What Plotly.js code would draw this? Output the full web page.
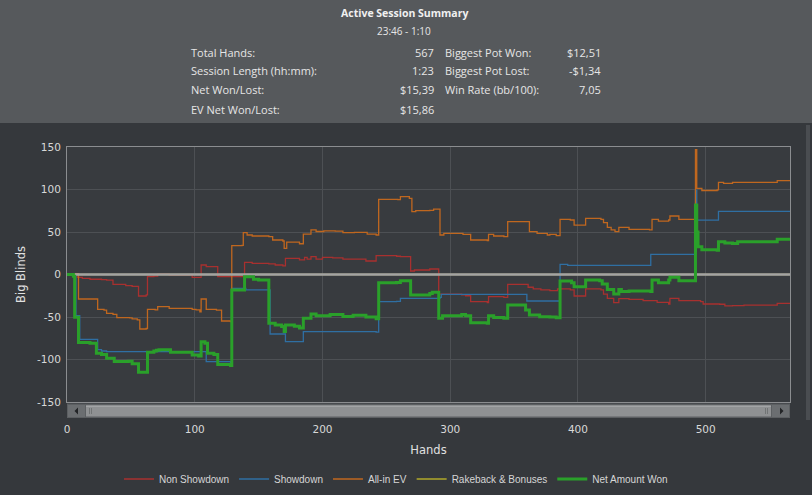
<!DOCTYPE html>
<html>
<head>
<meta charset="utf-8">
<script src="https://cdn.plot.ly/plotly-3.0.1.min.js"></script>
<style>html,body{margin:0;padding:0;background:#35383c;}#chart{width:812px;height:495px;}</style>
</head>
<body>
<div id="chart"></div>
<script>
// ---- data (hand number, big blinds) ----
const seriesNames = ["Non Showdown", "Showdown", "All-in EV", "Rakeback & Bonuses", "Net Amount Won"];

const nsHands  = [0,5,8,12,18,27,31,36,46,51,56,62,63,68,71,80,98,105,109,118,139,145,158,163,169,171,182,186,188,191,195,200,208,216,234,242,258,261,269,272,284,291,309,312,316,329,330,342,345,361,365,371,378,384,394,397,406,418,420,423,428,432,440,451,462,471,472,479,496,498,511,515,521,530,556,566];
const nsValues = [0,0,-3.3,-4.5,-5.6,-6,-6.5,-11.6,-13,-14,-25.3,-24,-2.5,-1.8,0.5,-0.6,-3.3,11.2,9.2,-2.5,14.3,13.2,12.4,11.2,10.2,19,17.1,20.2,18.2,21,18.2,20.2,19.5,18.2,15.9,22.1,21.5,21,4.1,5.3,6.5,-23,-24,-25,-32,-33.2,-26.1,-26.9,-11.6,-15,-17,-18.2,-19,-16.9,-18.2,-25.3,-17,-18.2,-23,-28,-33.2,-28.4,-29.2,-30.8,-32.7,-34.7,-28,-30.8,-31.8,-34.7,-35,-37,-36.6,-36,-34,-34];

const sdHands  = [0,5,7,10,24,27,31,105,109,128,129,140,159,171,185,242,244,258,261,292,293,360,386,392,457,492,493,510,566];
const sdValues = [0,-1,-48.4,-76.3,-88.4,-90,-90.8,-90.8,-102.4,-103.5,-16.3,-18.2,-70,-79,-67.3,-67.8,-32,-31.5,-28,-26.9,-23.3,-31.2,12,10.8,23.7,99,64,74.3,74.3];

const evHands  = [0,7,9,23,24,29,31,36,39,49,51,55,57,62,63,69,71,80,98,101,104,105,109,117,121,128,129,137,138,141,145,158,161,169,170,172,182,185,191,195,201,210,216,225,235,242,244,259,261,268,270,273,284,287,291,292,295,310,316,329,330,334,342,345,359,362,368,376,378,383,386,394,397,406,418,420,423,426,429,432,440,456,458,463,471,472,479,491,492,493,497,509,510,514,521,556,566];
const evValues = [0,1,-28.8,-28.8,-41,-42,-45.7,-47,-50.8,-51,-52.2,-53.3,-64.1,-63.5,-41,-41.5,-37.9,-39.8,-41,-41.5,-44,-28.8,-41,-42,-54.7,-55.5,33.9,34.2,49.2,46.5,45.3,44.5,40.6,39.4,30.8,38.2,36.2,47.6,52.4,50.6,51.4,51,49.2,49.5,47.6,46.5,88.4,88,91.6,89.6,73.9,75.1,75.5,77,77,46.5,48.4,47.3,40.6,39.8,47.3,45.3,44.5,62.1,62.1,50.4,48.4,46.5,47.3,45.7,64.9,64.1,58.2,66.1,64.9,61,55.5,52.4,50.4,55.5,53.1,52.4,64.9,62.9,64.1,68.8,64.9,64.9,147,101.4,98.8,99.6,108.5,107.3,108.5,110.4,110.4];

const rbHands  = [0,566];
const rbValues = [0,0];

const netHands  = [0,5,6,9,18,23,27,31,37,48,51,56,63,68,70,72,81,98,103,105,108,110,115,118,128,129,139,146,150,158,163,168,170,171,178,182,185,191,195,206,216,224,234,242,244,258,261,269,284,286,291,294,309,312,316,329,330,334,342,345,359,362,370,378,383,386,395,397,406,417,419,423,428,432,434,440,457,458,463,471,472,479,491,492,493,494,497,509,510,515,521,525,556,566];
const netValues = [0,-2,-50.4,-80,-81,-92.7,-94,-98.5,-102.4,-102,-105,-115,-91.5,-90,-89,-88.4,-91.5,-94.7,-96,-79,-81,-92.7,-94,-106,-107,-18.2,-2.5,-5.7,-6.5,-57.4,-59.4,-61.2,-67,-59.4,-61,-63,-51.5,-46.5,-48.4,-47,-49.4,-48,-50,-52,-9.6,-9.5,-7.3,-24.1,-22.4,-21,-51.5,-48.4,-47,-48.5,-56.7,-57.3,-48.6,-50.5,-51.5,-35.9,-41.8,-47.6,-49.6,-50,-51,-7.6,-9.6,-14.3,-6.6,-7.3,-11.2,-17.5,-23,-17.5,-20,-19.5,-20,-6.6,-9.6,-6.6,-3.3,-7.3,-7.3,81.8,50,32.7,29,28.4,38.6,37,36.6,38.6,41.4,41.4];

const xTickVals = [0,100,200,300,400,500];
const yTickVals = [-150,-100,-50,0,50,100,150];

// ---- summary texts ----
const summaryTitle = "Active Session Summary";
const summaryTime = "23:46 - 1:10";
const leftLabels  = ["Total Hands:", "Session Length (hh:mm):", "Net Won/Lost:", "EV Net Won/Lost:"];
const leftValues  = ["567", "1:23", "$15,39", "$15,86"];
const rightLabels = ["Biggest Pot Won:", "Biggest Pot Lost:", "Win Rate (bb/100):"];
const rightValues = ["$12,51", "-$1,34", "7,05"];

// ---- geometry helpers (pixel -> paper) ----
const L = 67, R = 790, T = 147, B = 402;
const W = R - L, H = B - T;
const px = X => (X - L) / W;
const py = Y => (B - Y) / H;

const colors = ["#a8302f", "#2f6fa3", "#c0671f", "#b0a82a", "#2aa02a"];

function tr(name, x, y, color, width, extra) {
  return Object.assign({
    type: "scatter", mode: "lines", name: name, x: x, y: y,
    line: {color: color, width: width, shape: "hv"},
    hoverinfo: "skip"
  }, extra || {});
}

const traces = [
  tr(seriesNames[0], nsHands, nsValues, colors[0], 1.3),
  tr(seriesNames[1], sdHands, sdValues, colors[1], 1.3),
  tr(seriesNames[2], evHands, evValues, colors[2], 1.3),
  tr(seriesNames[3], rbHands, rbValues, colors[3], 1.3),
  tr("zero", rbHands, rbValues, "#a3a3a3", 2.6, {showlegend: false}),
  tr(seriesNames[4], netHands, netValues, colors[4], 3)
];

const hdrFont = {family: "Open Sans, Noto Sans, sans-serif", size: 11, color: "#e6e6e6"};
const annotations = [
  {text: "<b>" + summaryTitle + "</b>", x: px(404), y: py(13), xanchor: "center", yanchor: "middle",
   font: {family: "Open Sans, sans-serif", size: 10.5, color: "#f0f0f0"}},
  {text: summaryTime, x: px(404), y: py(31), xanchor: "center", yanchor: "middle",
   font: {family: "Open Sans, sans-serif", size: 10, color: "#e6e6e6"}}
];
const rowsY = [52, 71, 90, 109];
leftLabels.forEach((t, i) => annotations.push({text: t, x: px(189), y: py(rowsY[i]), xanchor: "left", yanchor: "middle", font: hdrFont}));
leftValues.forEach((t, i) => annotations.push({text: t, x: px(436), y: py(rowsY[i]), xanchor: "right", yanchor: "middle", font: hdrFont}));
rightLabels.forEach((t, i) => annotations.push({text: t, x: px(443), y: py(rowsY[i]), xanchor: "left", yanchor: "middle", font: hdrFont}));
rightValues.forEach((t, i) => annotations.push({text: t, x: px(603), y: py(rowsY[i]), xanchor: "right", yanchor: "middle", font: hdrFont}));
annotations.forEach(a => { a.xref = "paper"; a.yref = "paper"; a.showarrow = false; });

function rect(x0, y0, x1, y1, fill, layer, lineColor) {
  return {type: "rect", xref: "paper", yref: "paper", x0: px(x0), x1: px(x1), y0: py(y1), y1: py(y0),
          fillcolor: fill, line: {width: lineColor ? 1 : 0, color: lineColor || fill}, layer: layer || "above"};
}
function tri(pts, fill) {
  const p = pts.map((q, i) => (i ? "L" : "M") + px(q[0]) + "," + py(q[1])).join(" ") + " Z";
  return {type: "path", xref: "paper", yref: "paper", path: p, fillcolor: fill, line: {width: 0}, layer: "above"};
}

const shapes = [
  rect(0, 0, 812, 123, "#56595c", "below"),
  rect(806, 125, 810, 420, "#4a4d51", "below"),
  // scrollbar
  rect(67, 403.5, 790, 418, "#5c5f62", "above"),
  rect(86, 405.5, 771, 416.5, "#8f9193", "above"),
  rect(86, 405.5, 771, 407, "#a2a4a6", "above"),
  rect(68, 405, 85, 417, "#6b6e71", "above"),
  rect(772, 405, 789, 417, "#6b6e71", "above"),
  tri([[78, 407.5], [78, 414.5], [74.5, 411]], "#222426"),
  tri([[780, 407.5], [780, 414.5], [783.5, 411]], "#222426"),
  rect(89, 408, 89.8, 414, "#6a6c6e", "above"),
  rect(91, 408, 91.8, 414, "#6a6c6e", "above"),
  rect(765, 408, 765.8, 414, "#6a6c6e", "above"),
  rect(767, 408, 767.8, 414, "#6a6c6e", "above")
];

const tickFont = {family: "DejaVu Sans, sans-serif", size: 10.5, color: "#d8d8d8"};
const layout = {
  width: 812, height: 495,
  margin: {l: L, r: 812 - R, t: T, b: 495 - B, pad: 0, autoexpand: false},
  paper_bgcolor: "#35383c",
  plot_bgcolor: "#383b3f",
  showlegend: true,
  legend: {orientation: "h", x: px(396), xanchor: "center", y: py(479), yanchor: "middle",
           font: {family: "Liberation Sans, Arial, sans-serif", size: 10, color: "#d6d6d6"},
           bgcolor: "rgba(0,0,0,0)", itemwidth: 30, tracegroupgap: 0},
  xaxis: {range: [0, 566], tickvals: xTickVals, ticktext: xTickVals.map(String),
          showgrid: true, gridcolor: "#4d5054", gridwidth: 1, zeroline: false,
          showline: true, linecolor: "#8b8d90", linewidth: 1, mirror: true,
          ticks: "outside", ticklen: 17, tickcolor: "rgba(0,0,0,0)", tickfont: tickFont,
          title: {text: "Hands", font: {family: "DejaVu Sans, sans-serif", size: 11.5, color: "#e0e0e0"}, standoff: 12},
          automargin: false, fixedrange: true},
  yaxis: {range: [-150, 150], tickvals: yTickVals, ticktext: yTickVals.map(String),
          showgrid: true, gridcolor: "#4d5054", gridwidth: 1, zeroline: false,
          showline: true, linecolor: "#8b8d90", linewidth: 1, mirror: true,
          ticks: "outside", ticklen: 3, tickcolor: "rgba(0,0,0,0)", tickfont: tickFont,
          title: {text: "Big Blinds", font: {family: "DejaVu Sans, sans-serif", size: 11.5, color: "#e0e0e0"}, standoff: 9},
          automargin: false, fixedrange: true},
  annotations: annotations,
  shapes: shapes
};

Plotly.newPlot("chart", traces, layout, {displayModeBar: false, staticPlot: true});
</script>
</body>
</html>
